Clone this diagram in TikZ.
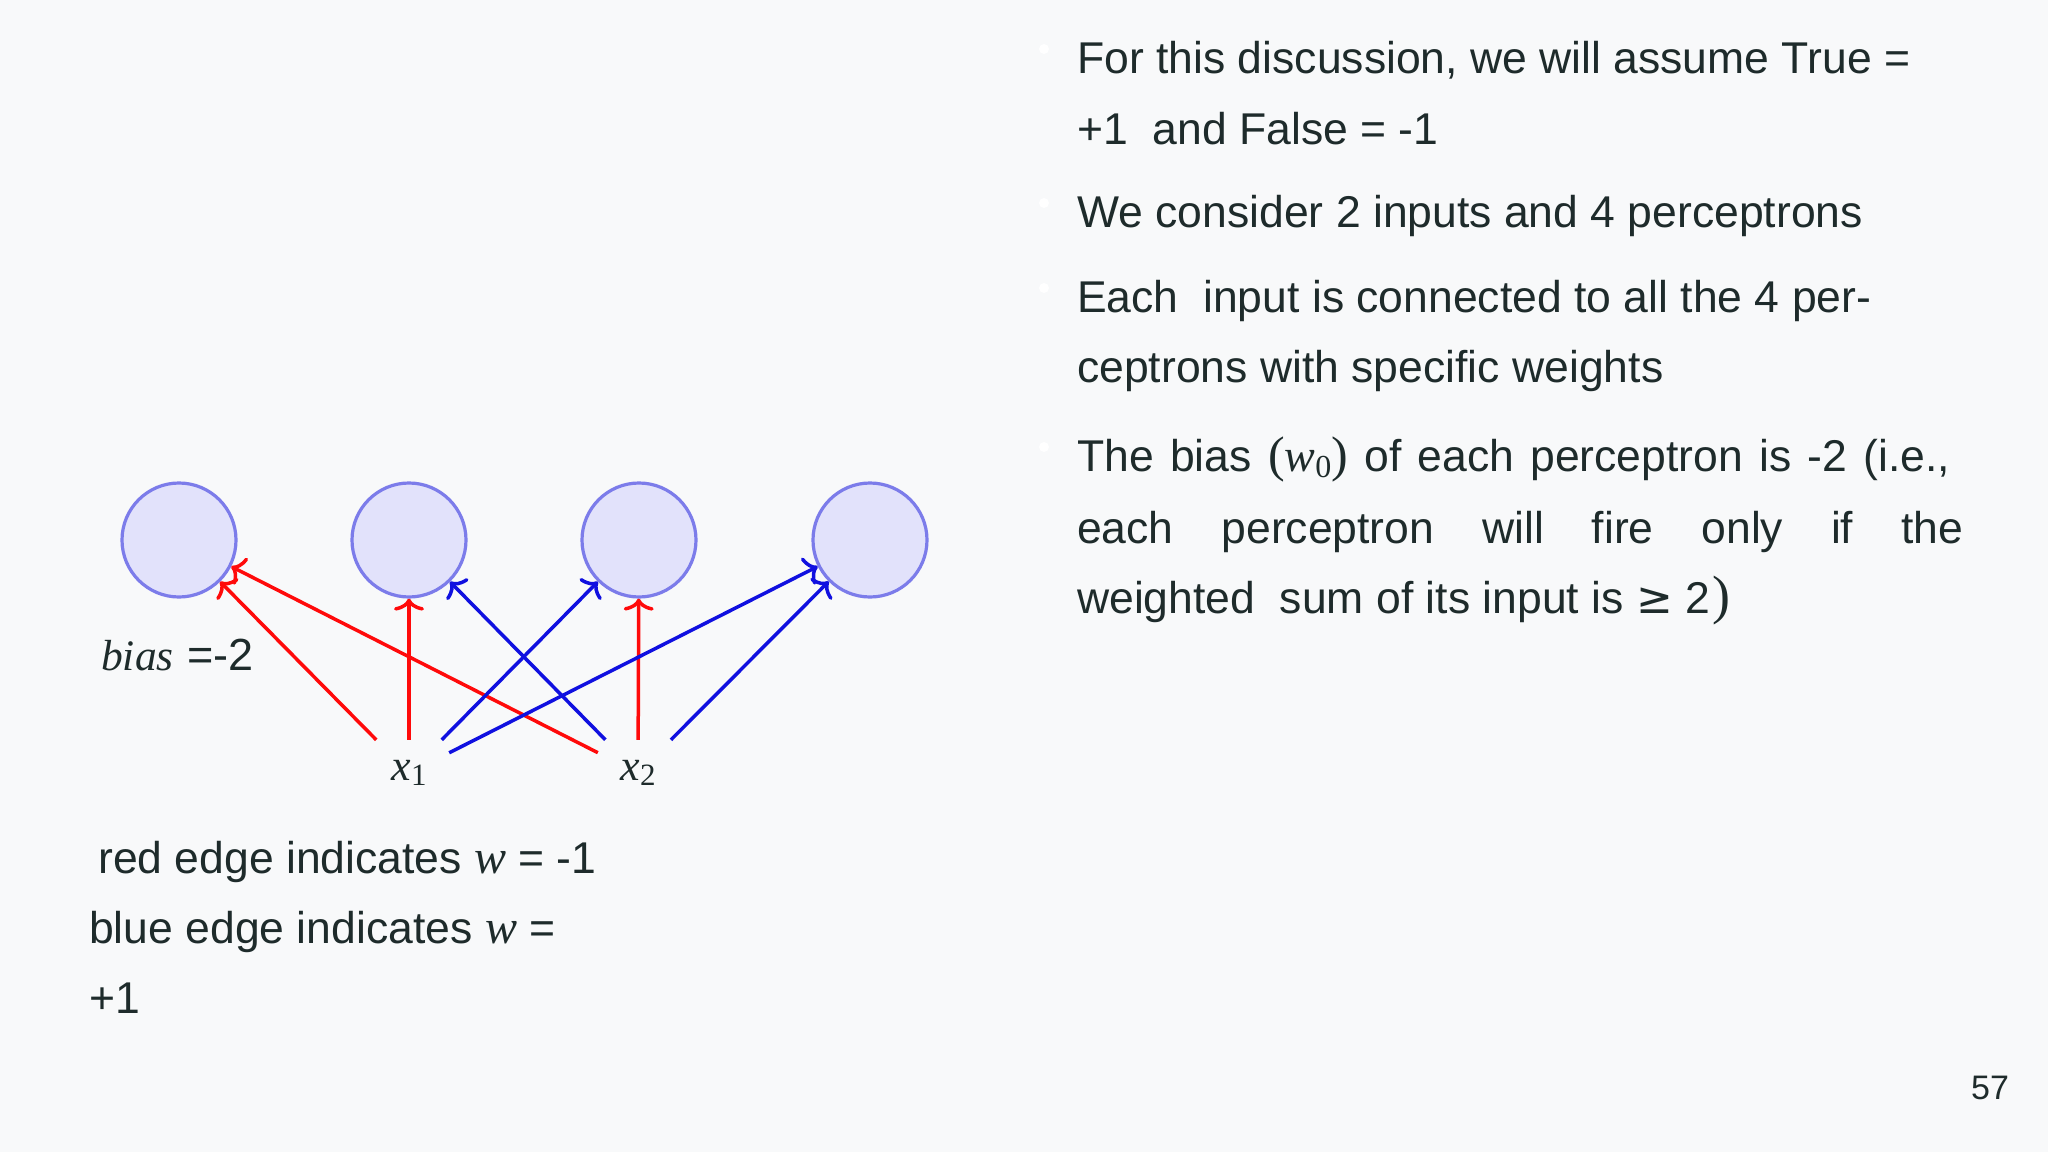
\documentclass[tikz,border=0pt]{standalone}
\usepackage{fontspec}
\setmainfont{Liberation Sans}
\newfontfamily\serfont{Liberation Serif}
\newfontfamily\symfont{DejaVu Sans}
\usetikzlibrary{arrows.meta}
\definecolor{bgcol}{HTML}{F8F9FA}
\definecolor{txtcol}{HTML}{1E2B2B}
\definecolor{ringcol}{HTML}{7C7CEA}
\definecolor{fillcol}{HTML}{E2E2FB}
\definecolor{redcol}{HTML}{FF0A0A}
\definecolor{bluecol}{HTML}{1010E0}
\newcommand{\mi}[1]{{\serfont\itshape #1}}
\newcommand{\bigparen}[1]{{\serfont\fontsize{50bp}{50bp}\selectfont #1}}
\begin{document}
\begin{tikzpicture}[x=1bp,y=-1bp,
  txt/.style={font=\fontsize{44.5bp}{50bp}\selectfont, text=txtcol, anchor=base west, inner sep=0pt},
  bul/.style={circle, fill=white, inner sep=0pt, minimum size=10bp},
  perc/.style={circle, draw=ringcol, fill=fillcol, line width=3.2bp, minimum size=114bp, inner sep=0pt},
  inp/.style={rectangle, minimum width=80bp, minimum height=66bp, inner sep=0pt, text=txtcol,
    font=\fontsize{44bp}{50bp}\selectfont},
  tipstyle/.style={-{Computer Modern Rightarrow[length=12bp,width=30bp]}},
  redarr/.style={draw=redcol, line width=3.5bp, tipstyle},
  bluearr/.style={draw=bluecol, line width=3.5bp, tipstyle}]
\fill[bgcol] (0,0) rectangle (2048,1152);
\useasboundingbox (0,0) rectangle (2048,1152);

% bullets (white, barely visible)
\node[bul] (d1) at (1044,49) {};
\node[bul] (d2) at (1044,203) {};
\node[bul] (d3) at (1044,288) {};
\node[bul] (d4) at (1044,447) {};

% right text
\node[txt] (t1) at (1077,73) {For this discussion, we will assume True =};
\node[txt] (t2) at (1077,144) {+1\ \ and False = -1};
\node[txt] (t3) at (1077,227) {We consider 2 inputs and 4 perceptrons};
\node[txt] (t4) at (1077,312) {Each\ \ input is connected to all the 4 per-};
\node[txt] (t5) at (1077,382) {ceptrons with specific weights};
\node[txt] (t6) at (1077,471) {\makebox[873bp][s]{The bias \bigparen{(}\mi{\fontsize{46bp}{50bp}\selectfont w}{\serfont\fontsize{32bp}{32bp}\selectfont\raisebox{-6bp}{0}}\bigparen{)} of each perceptron is -2 (i.e.,}};
\node[txt] (t7) at (1077,543) {\makebox[886bp][s]{each perceptron will fire only if the}};
\node[txt] (t8) at (1077,613) {weighted\ \ sum of its input is {\symfont\fontsize{44bp}{50bp}\selectfont ≥} 2\hspace{2bp}{\serfont\fontsize{54bp}{54bp}\selectfont )}};

% perceptrons
\node[perc] (c1) at (179,540) {};
\node[perc] (c2) at (409,540) {};
\node[perc] (c3) at (639,540) {};
\node[perc] (c4) at (870,540) {};

% inputs
\node[inp] (x1) at (409,773) {\mi{x}{\serfont\fontsize{31bp}{31bp}\selectfont\raisebox{-5bp}{1}}};
\node[inp] (x2) at (638,773) {\mi{x}{\serfont\fontsize{31bp}{31bp}\selectfont\raisebox{-5bp}{2}}};

% edges
\draw[redarr] (x1) -- (c1);
\draw[redarr] (x2) -- (c1);
\draw[redarr] (x1) -- (c2);
\draw[bluearr] (x2) -- (c2);
\draw[bluearr] (x1) -- (c3);
\draw[redarr] (x2) -- (c3);
\draw[bluearr] (x1) -- (c4);
\draw[bluearr] (x2) -- (c4);

% bias label
\node[txt] (bias) at (101,670) {{\fontsize{43.5bp}{48bp}\selectfont\mi{bias}}\hspace{14bp}{\fontsize{45bp}{48bp}\selectfont =-2}};

% legend
\node[txt] (l1) at (98,873) {red edge indicates \mi{\fontsize{48bp}{50bp}\selectfont w} = -1};
\node[txt] (l2) at (89,943) {blue edge indicates \mi{\fontsize{48bp}{50bp}\selectfont w} =};
\node[txt] (l3) at (89,1013) {+1};

% page number
\node[txt, font=\fontsize{34bp}{40bp}\selectfont] (pg) at (1971,1099) {57};
\end{tikzpicture}
\end{document}
